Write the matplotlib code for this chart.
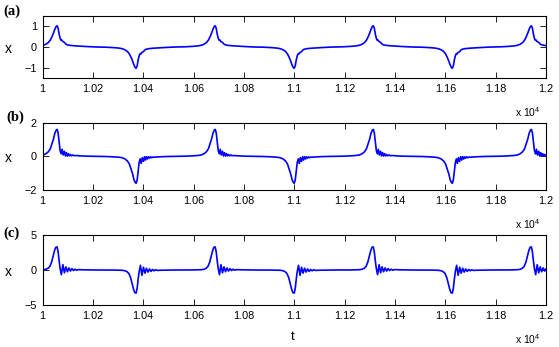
import numpy as np
import matplotlib.pyplot as plt

plt.rcParams['font.family'] = ['Liberation Sans', 'DejaVu Sans']
plt.rcParams['mathtext.fontset'] = 'custom'
plt.rcParams['mathtext.rm'] = 'Liberation Sans'

# times of the pulses (peaks +1, troughs -1)
event_t = [10058, 10372, 10686, 11000, 11314, 11628, 11942]
event_sign = [1, -1, 1, -1, 1, -1, 1]

# pulse shape, offset from pulse centre
a_dt = [-157, -120, -90, -70, -56, -45, -35, -27, -20, -14, -9, -4, 0, 4, 8, 12, 15, 18, 21, 25,
        29, 34, 39, 50, 66, 90, 120, 157]
a_x = [0.0, 0.01, 0.03, 0.05, 0.08, 0.13, 0.21, 0.33, 0.5, 0.68, 0.85, 0.98, 1.02, 0.9, 0.62, 0.42,
       0.33, 0.34, 0.28, 0.25, 0.22, 0.15, 0.11, 0.08, 0.06, 0.04, 0.02, 0.0]

b_dt = [-157, -120, -90, -70, -56, -45, -35, -27, -20, -14, -9, -4, 0, 4, 8, 12, 16, 20, 24, 29,
        33, 37, 41, 45, 49, 53, 57, 62, 67, 75, 90, 120, 157]
b_x = [0.0, 0.01, 0.03, 0.05, 0.08, 0.15, 0.27, 0.45, 0.77, 1.05, 1.37, 1.55, 1.6, 1.4, 0.85, 0.35,
       0.15, 0.42, 0.08, 0.3, 0.02, 0.22, 0.02, 0.16, 0.03, 0.11, 0.03, 0.08, 0.04, 0.05, 0.03, 0.01, 0.0]

c_dt = [-157, -120, -90, -70, -56, -45, -36, -29, -22, -16, -10, -5, 0, 4, 8, 12, 17, 23, 29, 35,
        41, 47, 53, 59, 65, 71, 77, 85, 100, 125, 157]
c_x = [0.0, 0.0, 0.01, 0.02, 0.04, 0.1, 0.25, 0.5, 1.1, 1.95, 2.8, 3.25, 3.3, 2.6, 1.3, 0.2,
       -0.67, 0.76, -0.4, 0.45, -0.25, 0.3, -0.15, 0.2, -0.08, 0.12, -0.04, 0.06, 0.03, 0.01, 0.0]

xticks = [10000, 10200, 10400, 10600, 10800, 11000, 11200, 11400, 11600, 11800, 12000]
xtick_labels = ['1', '1.02', '1.04', '1.06', '1.08', '1.1', '1.12', '1.14', '1.16', '1.18', '1.2']
panel_labels = ['(a)', '(b)', '(c)']
ylims = [1.5, 2, 5]
yticks = [[-1, 0, 1], [-2, 0, 2], [-5, 0, 5]]


def build(dt, x):
    t = np.concatenate([e + np.array(dt) for e in event_t])
    y = np.concatenate([s * np.array(x) for s in event_sign])
    return t, y


W, H = 559, 347
fig = plt.figure(figsize=(W / 100, H / 100), dpi=100)

# axes boxes in pixels: left, top, right, bottom
boxes = [(42.5, 15.7, 546, 78.3), (42.5, 122.7, 546, 190), (42.5, 235, 546, 305)]
label_pos = [(12, 11.5), (15, 117.5), (11.5, 233)]
profiles = [(a_dt, a_x), (b_dt, b_x), (c_dt, c_x)]

for i in range(3):
    l, tp, r, bt = boxes[i]
    ax = fig.add_axes([l / W, 1 - bt / H, (r - l) / W, (bt - tp) / H])
    t, y = build(*profiles[i])
    ax.plot(t, y, color='#0000ff', lw=1.2)
    ax.set_xlim(10000, 12000)
    ax.set_ylim(-ylims[i], ylims[i])
    ax.set_xticks(xticks)
    ax.set_xticklabels(xtick_labels)
    ax.set_yticks(yticks[i])
    ax.tick_params(direction='in', top=True, right=True, length=4, width=0.6,
                   labelsize=7.8, pad=4)
    for sp in ax.spines.values():
        sp.set_linewidth(0.8)
    zero_y = (tp + bt) / 2
    fig.text(8.3 / W, 1 - (zero_y + 2) / H, 'x', ha='center', va='center', fontsize=10)
    fig.text(541 / W, 1 - (bt + 34) / H, r'x 10$^{4}$', ha='right', va='center', fontsize=7.5)
    fig.text(label_pos[i][0] / W, 1 - label_pos[i][1] / H, panel_labels[i], ha='center',
             va='center', family='Liberation Serif', weight='bold', fontsize=10.5)

fig.text(292.7 / W, 1 - 336.7 / H, 't', ha='center', va='center', fontsize=9.5)

plt.savefig('out.png', dpi=100)
